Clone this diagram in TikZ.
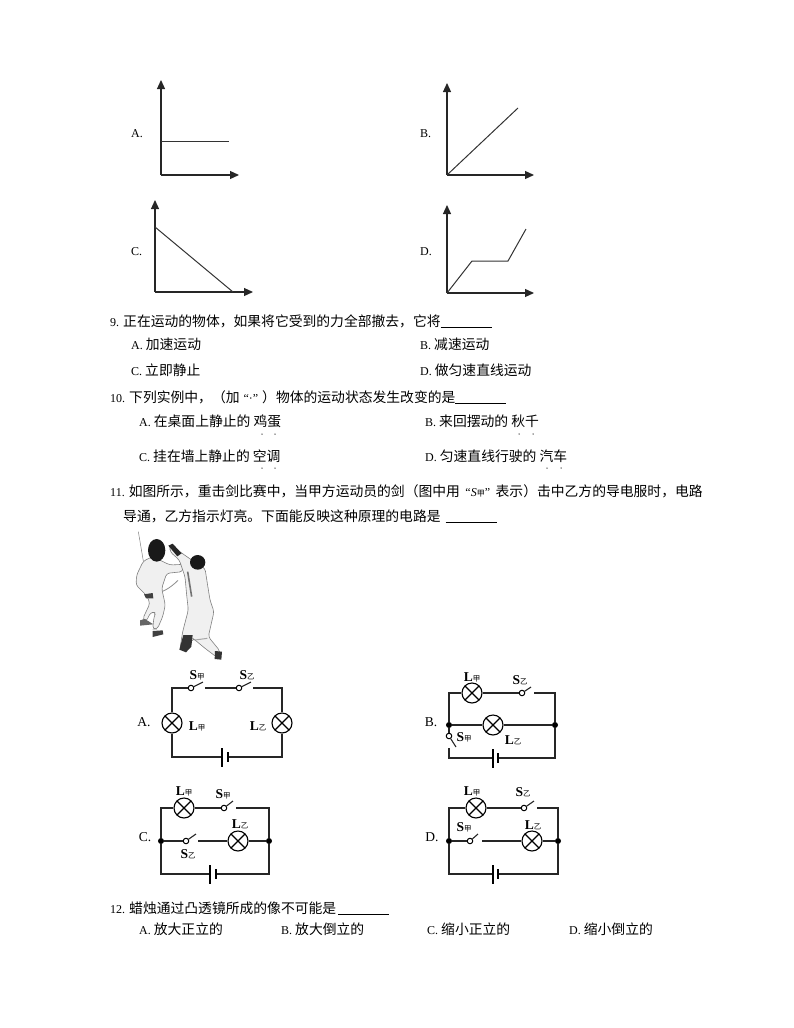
\documentclass[tikz,border=0pt]{standalone}
\usepackage{fontspec}
\setmainfont{Liberation Serif}
\newfontfamily\cjk[Scale=1.15]{Noto Sans CJK SC}
\usetikzlibrary{positioning}
\usetikzlibrary{arrows.meta}
\tikzset{>={Triangle[length=9pt,width=8pt]}}
\tikzset{txt/.style={anchor=west,inner sep=0pt,font=\fontsize{12}{14}\selectfont}}
\tikzset{axis/.style={->,line width=1.2pt,black!85}}
\tikzset{curve/.style={line width=1pt,black!80}}
\tikzset{wire/.style={line width=1.1pt,black!85}}
\tikzset{lamp/.style={circle,draw,line width=1.1pt,inner sep=0pt,minimum size=20pt,path picture={\draw[line width=1.1pt] (path picture bounding box.north west) -- (path picture bounding box.south east) (path picture bounding box.north east) -- (path picture bounding box.south west);}}}
\tikzset{pivot/.style={circle,draw,fill=white,line width=1pt,inner sep=0pt,minimum size=5.5pt}}
\tikzset{junction/.style={circle,fill=black,inner sep=0pt,minimum size=6pt}}
\tikzset{longplate/.style={fill=black,inner sep=0pt,minimum width=1.5pt,minimum height=19pt}}
\tikzset{shortplate/.style={fill=black,inner sep=0pt,minimum width=2pt,minimum height=10pt}}
\tikzset{lbl/.style={inner sep=0pt,font=\fontsize{13.5}{15}\selectfont}}
\tikzset{emdot/.style={circle,fill=black!70,inner sep=0pt,minimum size=1.5pt}}
\tikzset{suit/.style={fill=black!6,draw=black!50,line width=0.6pt,rounded corners=3pt}}
\newcommand{\lab}[2]{\textbf{#1}{\cjk\fontsize{6.5}{7}\selectfont #2}}
\newcommand{\blank}{\rule[-1.5pt]{51pt}{0.6pt}}
\begin{document}
\begin{tikzpicture}[x=1pt,y=-1pt]
\useasboundingbox (0,0) rectangle (794,1028);

\node[txt] (gA) at (131,134) {A.};
\coordinate (gAo) at (161,175);
\coordinate (gAy) at (161,80);
\coordinate (gAx) at (239,175);
\coordinate (gAs) at (161,141);
\coordinate (gAe) at (229,141);
\draw[axis] (gAo) -- (gAy);
\draw[axis] (gAo) -- (gAx);
\draw[curve] (gAs) -- (gAe);

\node[txt] (gB) at (420,134) {B.};
\coordinate (gBo) at (447,175);
\coordinate (gBy) at (447,83);
\coordinate (gBx) at (534,175);
\coordinate (gBe) at (518,108);
\draw[axis] (gBo) -- (gBy);
\draw[axis] (gBo) -- (gBx);
\draw[curve] (gBo) -- (gBe);

\node[txt] (gC) at (131,252) {C.};
\coordinate (gCo) at (155,292);
\coordinate (gCy) at (155,200);
\coordinate (gCx) at (253,292);
\coordinate (gCs) at (155,227);
\coordinate (gCe) at (233,292);
\draw[axis] (gCo) -- (gCy);
\draw[axis] (gCo) -- (gCx);
\draw[curve] (gCs) -- (gCe);

\node[txt] (gD) at (420,252) {D.};
\coordinate (gDo) at (447,293);
\coordinate (gDy) at (447,205);
\coordinate (gDx) at (534,293);
\coordinate (gDa) at (472,261);
\coordinate (gDb) at (508,261);
\coordinate (gDe) at (526,229);
\draw[axis] (gDo) -- (gDy);
\draw[axis] (gDo) -- (gDx);
\draw[curve] (gDo) -- (gDa) -- (gDb) -- (gDe);

\node[txt] (q9) at (110,321) {9. {\cjk 正在运动的物体，如果将它受到的力全部撤去，它将}\blank};
\node[txt] (q9a) at (131,344) {A. {\cjk 加速运动}};
\node[txt] (q9b) at (420,344) {B. {\cjk 减速运动}};
\node[txt] (q9c) at (131,370) {C. {\cjk 立即静止}};
\node[txt] (q9d) at (420,370) {D. {\cjk 做匀速直线运动}};

\node[txt] (q10) at (110,397) {10. {\cjk 下列实例中，（加}\hspace{4pt}“·”\hspace{4pt}{\cjk ）物体的运动状态发生改变的是}\blank};
\node[txt] (q10a) at (139,421) {A. {\cjk 在桌面上静止的 鸡蛋}};
\node[txt] (q10b) at (425,421) {B. {\cjk 来回摆动的 秋千}};
\node[txt] (q10c) at (139,456) {C. {\cjk 挂在墙上静止的 空调}};
\node[txt] (q10d) at (425,456) {D. {\cjk 匀速直线行驶的 汽车}};
\foreach \i/\x/\y in {1/262/434,2/275/434,3/519/434,4/533/434,5/262/468,6/275/468,7/547/468,8/561/468}
  \node[emdot] (em\i) at (\x,\y) {};

\node[txt] (q11) at (110,491) {11. {\cjk 如图所示，重击剑比赛中，当甲方运动员的剑（图中用}\hspace{5.5pt}“\textit{S}{\cjk\fontsize{7}{7}\selectfont 甲}”\hspace{5.5pt}{\cjk 表示）击中乙方的导电服时，电路}};
\node[txt] (q11b) at (123,516) {{\cjk 导通，乙方指示灯亮。下面能反映这种原理的电路是}\hspace{5pt}\blank};

\begin{scope}[shift={(120,525)},scale=1/3]
\draw[black!50,line width=0.5pt] (55,20) -- (70,108);
\draw[black!45,line width=0.8pt] (88,210) .. controls (125,205) and (150,190) .. (174,166);
\draw[suit] (70,108) -- (98,95) -- (150,120) -- (190,118) -- (188,140) -- (140,145) -- (125,190) -- (136,240) -- (128,275) -- (112,312) -- (98,312) -- (102,275) -- (108,262) -- (92,262) -- (78,290) -- (68,282) -- (90,235) -- (80,212) -- (48,180) -- (50,150) -- cycle;
\fill[black!90] (110,76) ellipse (26 and 34);
\fill[black!75] (98,318) -- (128,316) -- (130,328) -- (98,336) -- cycle;
\fill[black!60] (60,286) -- (75,282) -- (100,298) -- (60,302) -- cycle;
\fill[black!75] (72,208) -- (98,204) -- (100,220) -- (78,220) -- cycle;
\draw[suit] (150,62) -- (165,70) -- (215,105) -- (255,130) -- (262,175) -- (270,225) -- (282,260) -- (265,335) -- (300,378) -- (295,400) -- (255,370) -- (225,345) -- (218,340) -- (205,375) -- (180,370) -- (188,320) -- (205,255) -- (200,210) -- (195,155) -- (178,105) -- (150,80) -- cycle;
\fill[black!90] (233,112) ellipse (23 and 22);
\fill[black!85] (145,62) -- (158,56) -- (185,85) -- (172,94) -- cycle;
\fill[black!80] (190,330) -- (218,330) -- (214,365) -- (198,382) -- (178,374) -- cycle;
\fill[black!80] (285,378) -- (306,380) -- (304,404) -- (284,402) -- cycle;
\draw[black!55,line width=1.6pt] (203,140) -- (215,215);
\draw[black!35,line width=1pt] (225,345) -- (262,340);
\end{scope}

\node[lbl] (aLb) at (144,722) {A.};
\node[lamp] (aL1) at (172,723) {};
\node[lamp] (aL2) at (282,723) {};
\node[pivot] (aS1) at (191,688) {};
\node[pivot] (aS2) at (239,688) {};
\coordinate (aA1) at (203,682);
\coordinate (aA2) at (251,682);
\coordinate (aC1) at (205,688);
\coordinate (aC2) at (253,688);
\node[longplate] (aB1) at (222,757) {};
\node[shortplate] (aB2) at (228,757) {};
\draw[wire] (aL1) |- (aS1);
\draw[wire] (aS1) -- (aA1);
\draw[wire] (aC1) -- (aS2);
\draw[wire] (aS2) -- (aA2);
\draw[wire] (aC2) -| (aL2);
\draw[wire] (aL1) |- (aB1);
\draw[wire] (aL2) |- (aB2);
\node[lbl] (aT1) at (197,675) {\lab{S}{甲}};
\node[lbl] (aT2) at (247,675) {\lab{S}{乙}};
\node[lbl] (aT3) at (197,726) {\lab{L}{甲}};
\node[lbl] (aT4) at (258,726) {\lab{L}{乙}};

\node[lbl] (bLb) at (431,722) {B.};
\node[lamp] (bL1) at (472,693) {};
\node[lamp] (bL2) at (493,725) {};
\node[pivot] (bS2) at (522,693) {};
\coordinate (bA2) at (531,687);
\coordinate (bC2) at (534,693);
\node[junction] (bJ1) at (449,725) {};
\node[junction] (bJ2) at (555,725) {};
\node[pivot] (bS1) at (449,736) {};
\coordinate (bA1) at (456,747);
\coordinate (bC1) at (449,748);
\node[longplate] (bB1) at (493,758) {};
\node[shortplate] (bB2) at (498,758) {};
\draw[wire] (bJ1) |- (bL1);
\draw[wire] (bL1) -- (bS2);
\draw[wire] (bS2) -- (bA2);
\draw[wire] (bC2) -| (bJ2);
\draw[wire] (bJ1) -- (bL2);
\draw[wire] (bL2) -- (bJ2);
\draw[wire] (bJ1) -- (bS1);
\draw[wire] (bS1) -- (bA1);
\draw[wire] (bC1) |- (bB1);
\draw[wire] (bJ2) |- (bB2);
\node[lbl] (bT1) at (472,677) {\lab{L}{甲}};
\node[lbl] (bT2) at (520,680) {\lab{S}{乙}};
\node[lbl] (bT3) at (464,737) {\lab{S}{甲}};
\node[lbl] (bT4) at (513,740) {\lab{L}{乙}};

\node[lbl] (cLb) at (145,837) {C.};
\node[lamp] (cL1) at (184,808) {};
\node[lamp] (cL2) at (238,841) {};
\node[pivot] (cS1) at (224,808) {};
\coordinate (cA1) at (233,801);
\coordinate (cC1) at (236,808);
\node[pivot] (cS2) at (186,841) {};
\coordinate (cA2) at (196,834);
\coordinate (cC2) at (198,841);
\node[junction] (cJ1) at (161,841) {};
\node[junction] (cJ2) at (269,841) {};
\node[longplate] (cB1) at (210,874) {};
\node[shortplate] (cB2) at (216,874) {};
\draw[wire] (cJ1) |- (cL1);
\draw[wire] (cL1) -- (cS1);
\draw[wire] (cS1) -- (cA1);
\draw[wire] (cC1) -| (cJ2);
\draw[wire] (cJ1) -- (cS2);
\draw[wire] (cS2) -- (cA2);
\draw[wire] (cC2) -- (cL2);
\draw[wire] (cL2) -- (cJ2);
\draw[wire] (cJ1) |- (cB1);
\draw[wire] (cJ2) |- (cB2);
\node[lbl] (cT1) at (184,791) {\lab{L}{甲}};
\node[lbl] (cT2) at (223,794) {\lab{S}{甲}};
\node[lbl] (cT3) at (240,824) {\lab{L}{乙}};
\node[lbl] (cT4) at (188,854) {\lab{S}{乙}};

\node[lbl] (dLb) at (432,837) {D.};
\node[lamp] (dL1) at (476,808) {};
\node[lamp] (dL2) at (532,841) {};
\node[pivot] (dS1) at (524,808) {};
\coordinate (dA1) at (534,801);
\coordinate (dC1) at (537,808);
\node[pivot] (dS2) at (470,841) {};
\coordinate (dA2) at (478,834);
\coordinate (dC2) at (482,841);
\node[junction] (dJ1) at (449,841) {};
\node[junction] (dJ2) at (558,841) {};
\node[longplate] (dB1) at (493,874) {};
\node[shortplate] (dB2) at (498,874) {};
\draw[wire] (dJ1) |- (dL1);
\draw[wire] (dL1) -- (dS1);
\draw[wire] (dS1) -- (dA1);
\draw[wire] (dC1) -| (dJ2);
\draw[wire] (dJ1) -- (dS2);
\draw[wire] (dS2) -- (dA2);
\draw[wire] (dC2) -- (dL2);
\draw[wire] (dL2) -- (dJ2);
\draw[wire] (dJ1) |- (dB1);
\draw[wire] (dJ2) |- (dB2);
\node[lbl] (dT1) at (472,791) {\lab{L}{甲}};
\node[lbl] (dT2) at (523,792) {\lab{S}{乙}};
\node[lbl] (dT3) at (464,827) {\lab{S}{甲}};
\node[lbl] (dT4) at (533,825) {\lab{L}{乙}};

\node[txt] (q12) at (110,908) {12. {\cjk 蜡烛通过凸透镜所成的像不可能是}\hspace{2pt}\blank};
\node[txt] (q12a) at (139,929) {A. {\cjk 放大正立的}};
\node[txt] (q12b) at (281,929) {B. {\cjk 放大倒立的}};
\node[txt] (q12c) at (427,929) {C. {\cjk 缩小正立的}};
\node[txt] (q12d) at (569,929) {D. {\cjk 缩小倒立的}};
\end{tikzpicture}
\end{document}
